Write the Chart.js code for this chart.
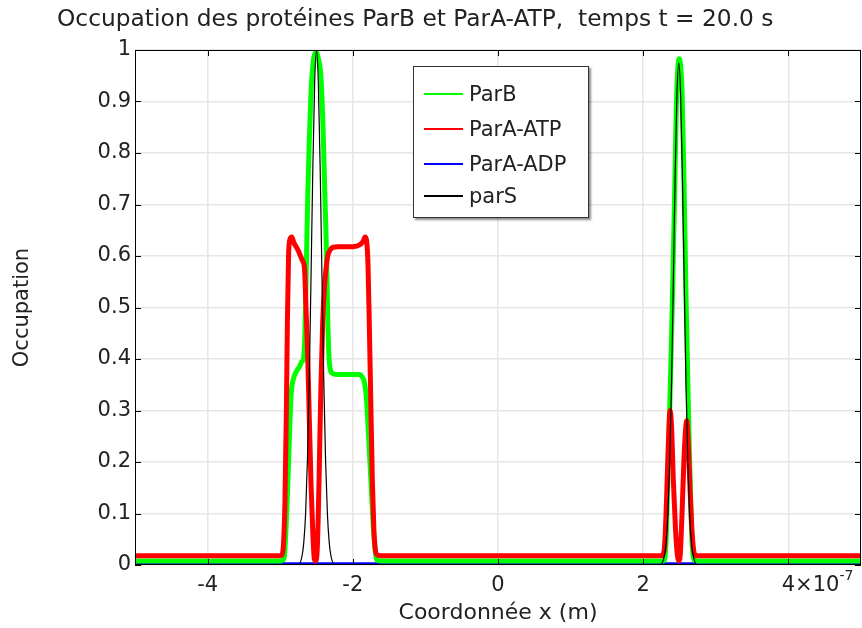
<!DOCTYPE html>
<html>
<head>
<meta charset="utf-8">
<script src="https://cdn.jsdelivr.net/npm/chart.js@4.4.1/dist/chart.umd.min.js"></script>
<style>
  body { margin: 0; background: #fff; font-family: 'DejaVu Sans', sans-serif; }
  #wrap { position: relative; width: 862px; height: 628px; }
  #title { position: absolute; left: 57px; top: 4px; font-size: 23.3px; color: #222; white-space: pre; }
  #legend { position: absolute; left: 413px; top: 66px; width: 174px; height: 150px;
            border: 1px solid #333; background: #fff; box-shadow: 2px 2px 2px rgba(0,0,0,0.45); }
  .row { position: absolute; left: 0; height: 30px; display: flex; align-items: center; font-size: 21px; color: #222; }
  .swatch { display: inline-block; width: 39px; height: 2px; margin-left: 10px; margin-right: 6px; }
</style>
</head>
<body>
<div id="wrap">
  <canvas id="occChart" width="862" height="628"></canvas>
  <div id="title">Occupation des protéines ParB et ParA-ATP,  temps t = 20.0 s</div>
  <div id="legend"></div>
</div>
<script>
// x values are in units of 1e-7 m
const xTicks = [-4, -2, 0, 2, 4];
const yTicks = [0, 0.1, 0.2, 0.3, 0.4, 0.5, 0.6, 0.7, 0.8, 0.9, 1];
const yTickLabels = ['0', '0.1', '0.2', '0.3', '0.4', '0.5', '0.6', '0.7', '0.8', '0.9', '1'];

const seriesLabels = ['ParB', 'ParA-ATP', 'ParA-ADP', 'parS'];
const seriesColors = ['#00ff00', '#ff0000', '#0000ff', '#000000'];

const parBx = [-5, -3.0, -2.96, -2.94, -2.92, -2.897, -2.87, -2.85, -2.82, -2.78, -2.735, -2.70, -2.68,
  -2.66, -2.64, -2.62, -2.6, -2.575, -2.55, -2.53, -2.5, -2.47, -2.44, -2.41, -2.385, -2.365, -2.345,
  -2.33, -2.31, -2.28, -2.23, -2.0, -1.91, -1.87, -1.84, -1.81, -1.79, -1.76, -1.72, -1.70, -1.68, -1.66,
  -1.6, 2.25, 2.28, 2.31, 2.34, 2.37, 2.40, 2.43, 2.455, 2.475, 2.495, 2.515, 2.535, 2.56, 2.59, 2.62,
  2.65, 2.675, 2.70, 2.73, 5];
const parBy = [0.008, 0.008, 0.01, 0.02, 0.07, 0.15, 0.26, 0.33, 0.36, 0.375, 0.385, 0.395, 0.40,
  0.45, 0.58, 0.72, 0.82, 0.92, 0.97, 0.99, 0.995, 0.98, 0.95, 0.85, 0.72, 0.62, 0.48,
  0.41, 0.38, 0.372, 0.37, 0.37, 0.37, 0.365, 0.355, 0.32, 0.27, 0.19, 0.08, 0.04, 0.015, 0.009,
  0.008, 0.008, 0.008, 0.03, 0.17, 0.33, 0.5, 0.7, 0.88, 0.96, 0.983, 0.97, 0.92, 0.76, 0.52, 0.32,
  0.14, 0.04, 0.01, 0.008, 0.008];

const parAatpX = [-5, -3.0, -2.975, -2.955, -2.935, -2.915, -2.9, -2.885, -2.865, -2.84, -2.81, -2.78,
  -2.75, -2.72, -2.69, -2.665, -2.645, -2.62, -2.6, -2.575, -2.55, -2.53, -2.51, -2.49, -2.475, -2.46,
  -2.44, -2.415, -2.39, -2.365, -2.345, -2.31, -2.27, -2.2, -2.0, -1.9, -1.86, -1.83, -1.81, -1.79,
  -1.77, -1.75, -1.73, -1.71, -1.69, -1.67, -1.62, 2.25, 2.29, 2.32, 2.345, 2.37, 2.39, 2.415, 2.445,
  2.47, 2.49, 2.51, 2.535, 2.56, 2.585, 2.60, 2.62, 2.645, 2.675, 2.70, 2.73, 5];
const parAatpY = [0.018, 0.018, 0.02, 0.04, 0.12, 0.3, 0.48, 0.6, 0.633, 0.637, 0.625, 0.618,
  0.61, 0.6, 0.59, 0.575, 0.5, 0.40, 0.29, 0.155, 0.06, 0.012, 0.008, 0.03, 0.1, 0.2,
  0.34, 0.47, 0.54, 0.58, 0.6, 0.612, 0.617, 0.618, 0.618, 0.622, 0.628, 0.637, 0.63, 0.58,
  0.45, 0.3, 0.16, 0.07, 0.03, 0.02, 0.018, 0.018, 0.03, 0.12, 0.23, 0.3, 0.27, 0.165, 0.07,
  0.02, 0.008, 0.02, 0.1, 0.2, 0.265, 0.28, 0.24, 0.15, 0.06, 0.025, 0.018, 0.018];

const parAadpX = [-5, -2.5, 2.5, 5];
const parAadpY = [0.003, 0.003, 0.003, 0.003];

const parSx = [-5, -2.75, -2.7, -2.675, -2.65, -2.625, -2.6, -2.575, -2.55, -2.525, -2.5, -2.475, -2.45,
  -2.425, -2.4, -2.375, -2.35, -2.325, -2.3, -2.25, 2.24, 2.29, 2.315, 2.34, 2.365, 2.39, 2.415, 2.44,
  2.465, 2.49, 2.515, 2.54, 2.565, 2.59, 2.615, 2.64, 2.665, 2.69, 2.74, 5];
const parSy = [0, 0.001, 0.017, 0.044, 0.1, 0.204, 0.36, 0.563, 0.775, 0.938, 1.0, 0.938, 0.775,
  0.563, 0.36, 0.204, 0.1, 0.044, 0.017, 0.001, 0.001, 0.017, 0.043, 0.098, 0.2, 0.35, 0.55, 0.755,
  0.915, 0.975, 0.915, 0.755, 0.55, 0.35, 0.2, 0.098, 0.043, 0.017, 0.001, 0];

const seriesX = [parBx, parAatpX, parAadpX, parSx];
const seriesY = [parBy, parAatpY, parAadpY, parSy];
const seriesWidth = [5, 5, 2.5, 1.2];
const seriesOrder = [2, 1, 3, 0];

function toPoints(xs, ys) {
  return xs.map((x, i) => ({ x: x, y: ys[i] }));
}

const tickFont = { family: 'DejaVu Sans', size: 21 };
const xTickPadding = 8;

const frame = {
  id: 'frame',
  afterDraw(chart) {
    const ctx = chart.ctx;
    const a = chart.chartArea;
    const x = chart.scales.x;
    const y = chart.scales.y;
    ctx.save();
    ctx.strokeStyle = '#000';
    ctx.lineWidth = 1;
    ctx.strokeRect(a.left + 0.5, a.top + 0.5, a.right - a.left - 1, a.bottom - a.top - 1);
    ctx.beginPath();
    xTicks.forEach(v => {
      const px = Math.round(x.getPixelForValue(v)) + 0.5;
      ctx.moveTo(px, a.bottom); ctx.lineTo(px, a.bottom - 6);
      ctx.moveTo(px, a.top); ctx.lineTo(px, a.top + 6);
    });
    yTicks.forEach(v => {
      const py = Math.round(y.getPixelForValue(v)) + 0.5;
      ctx.moveTo(a.left, py); ctx.lineTo(a.left + 6, py);
      ctx.moveTo(a.right, py); ctx.lineTo(a.right - 6, py);
    });
    ctx.stroke();

    // exponent after the last x tick label
    const last = xTicks[xTicks.length - 1];
    ctx.fillStyle = '#222';
    ctx.font = tickFont.size + 'px ' + tickFont.family;
    ctx.textBaseline = 'middle';
    ctx.textAlign = 'left';
    const cy = a.bottom + xTickPadding + tickFont.size * 1.2 / 2;
    let sx = x.getPixelForValue(last) + ctx.measureText(String(last)).width / 2;
    ctx.fillText('×10', sx, cy);
    sx += ctx.measureText('×10').width;
    ctx.font = '14px ' + tickFont.family;
    ctx.fillText('-7', sx, cy - 9);
    ctx.restore();
  }
};

const config = {
  type: 'line',
  data: {
    datasets: seriesLabels.map((label, i) => ({
      label: label,
      data: toPoints(seriesX[i], seriesY[i]),
      borderColor: seriesColors[i],
      backgroundColor: seriesColors[i],
      borderWidth: seriesWidth[i],
      pointRadius: 0,
      cubicInterpolationMode: 'monotone',
      borderJoinStyle: 'round',
      order: seriesOrder[i],
      clip: 0
    }))
  },
  options: {
    responsive: false,
    animation: false,
    devicePixelRatio: 1,
    layout: { padding: { top: 50, right: 1, left: 0, bottom: 0 } },
    plugins: {
      legend: { display: false },
      title: { display: false },
      tooltip: { enabled: false }
    },
    scales: {
      x: {
        type: 'linear',
        min: -5,
        max: 5,
        afterFit: s => { s.height = 63; },
        afterBuildTicks: s => { s.ticks = xTicks.map(v => ({ value: v })); },
        grid: { color: '#e6e6e6', lineWidth: 1.5, drawTicks: false },
        border: { display: false },
        ticks: { font: tickFont, color: '#222', padding: xTickPadding, maxRotation: 0,
                 callback: v => String(v) },
        title: { display: true, text: 'Coordonnée x (m)', color: '#222',
                 font: { family: 'DejaVu Sans', size: 22 }, padding: { top: 0, bottom: 2 } }
      },
      y: {
        min: 0,
        max: 1,
        afterFit: s => { s.width = 135; },
        afterBuildTicks: s => { s.ticks = yTicks.map(v => ({ value: v })); },
        grid: { color: '#e6e6e6', lineWidth: 1.5, drawTicks: false },
        border: { display: false },
        ticks: { font: tickFont, color: '#222', padding: 4,
                 callback: (v, i) => yTickLabels[i] },
        title: { display: true, text: 'Occupation', color: '#222',
                 font: { family: 'DejaVu Sans', size: 21 }, padding: { top: 10, bottom: 0 } }
      }
    }
  },
  plugins: [frame]
};

const occChart = new Chart(document.getElementById('occChart').getContext('2d'), config);

// legend box inside the plot, built from the series arrays
const legendEl = document.getElementById('legend');
const rowCenters = [27, 62, 97, 129];
seriesLabels.forEach((label, i) => {
  const row = document.createElement('div');
  row.className = 'row';
  row.style.top = (rowCenters[i] - 15) + 'px';
  const swatch = document.createElement('span');
  swatch.className = 'swatch';
  swatch.style.background = seriesColors[i];
  row.appendChild(swatch);
  row.appendChild(document.createTextNode(label));
  legendEl.appendChild(row);
});
</script>
</body>
</html>
